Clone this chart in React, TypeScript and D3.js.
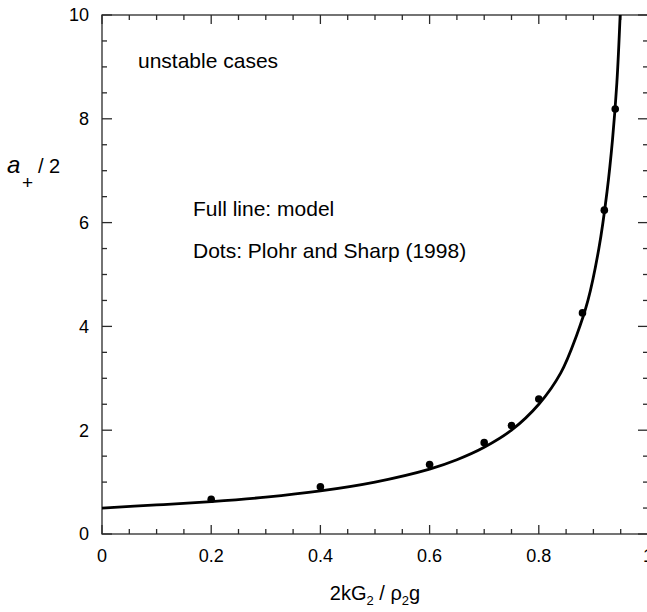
import React from "react";
import * as d3 from "d3";

// Model curve
const curveX = [0, 0.1, 0.2, 0.3, 0.4, 0.5, 0.6, 0.65, 0.7, 0.75, 0.8, 0.84, 0.87, 0.89, 0.91, 0.925, 0.935, 0.943, 0.949];
const curveY = [0.5, 0.56, 0.625, 0.71, 0.83, 1.0, 1.25, 1.43, 1.67, 2.0, 2.5, 3.1, 3.85, 4.5, 5.5, 6.6, 7.6, 8.7, 10.0];

// Plohr and Sharp (1998) dots
const dotX = [0.2, 0.4, 0.6, 0.7, 0.75, 0.8, 0.88, 0.92, 0.94];
const dotY = [0.67, 0.91, 1.34, 1.76, 2.09, 2.6, 4.26, 6.24, 8.19];

const xTickLabels = [0, 0.2, 0.4, 0.6, 0.8, 1];
const yTickLabels = [0, 2, 4, 6, 8, 10];

const W = 647;
const H = 612;
const FONT = "'Liberation Sans', Arial, Helvetica, sans-serif";

export default function App() {
  const x = d3.scaleLinear().domain([0, 1]).range([102, 648]);
  const y = d3.scaleLinear().domain([0, 10]).range([534, 15]);
  const x0 = x(0), x1 = x(1), y0 = y(0), y1 = y(10);

  const line = d3
    .line<number>()
    .x((_, i) => x(curveX[i]))
    .y((_, i) => y(curveY[i]))
    .curve(d3.curveCatmullRom.alpha(0.5));

  const xMinor = d3.range(0, 21).map((i) => i * 0.05);
  const yMinor = d3.range(0, 21).map((i) => i * 0.5);
  const isMajorX = (v: number) => Math.abs(v * 5 - Math.round(v * 5)) < 1e-6;
  const isMajorY = (v: number) => Math.abs(v / 2 - Math.round(v / 2)) < 1e-6;
  const axisColor = "#2a2a2a";

  return (
    <svg
      width={W}
      height={H}
      style={{ position: "absolute", left: 0, top: 0, background: "#fff" }}
      fontFamily={FONT}
    >
      <rect x={0} y={0} width={W} height={H} fill="#fff" />
      {/* frame */}
      <rect x={x0} y={y1} width={x1 - x0} height={y0 - y1} fill="none" stroke={axisColor} strokeWidth={1.3} />
      {/* x ticks bottom and top */}
      {xMinor.map((v, i) => {
        const len = isMajorX(v) ? 9 : 5;
        const px = x(v);
        return (
          <g key={"xt" + i}>
            <line x1={px} x2={px} y1={y0} y2={y0 - len} stroke={axisColor} strokeWidth={1.3} />
            <line x1={px} x2={px} y1={y1} y2={y1 + len} stroke={axisColor} strokeWidth={1.3} />
          </g>
        );
      })}
      {/* y ticks left and right */}
      {yMinor.map((v, i) => {
        const len = isMajorY(v) ? 10 : 5;
        const py = y(v);
        return (
          <g key={"yt" + i}>
            <line x1={x0} x2={x0 + len} y1={py} y2={py} stroke={axisColor} strokeWidth={1.3} />
            <line x1={x1} x2={x1 - len} y1={py} y2={py} stroke={axisColor} strokeWidth={1.3} />
          </g>
        );
      })}
      {/* tick labels */}
      {xTickLabels.map((v) => (
        <text key={"xl" + v} x={x(v)} y={562} textAnchor="middle" fontSize={18}>
          {String(v)}
        </text>
      ))}
      {yTickLabels.map((v) => (
        <text key={"yl" + v} x={89} y={y(v)} dy="0.35em" textAnchor="end" fontSize={18}>
          {String(v)}
        </text>
      ))}
      {/* model curve */}
      <path d={line(curveX) || ""} fill="none" stroke="#000" strokeWidth={2.8} strokeLinejoin="round" />
      {/* dots */}
      {dotX.map((v, i) => (
        <circle key={"d" + i} cx={x(v)} cy={y(dotY[i])} r={3.8} fill="#000" />
      ))}
      {/* annotations */}
      <text x={138} y={68} fontSize={21}>unstable cases</text>
      <text x={193} y={216} fontSize={21}>Full line: model</text>
      <text x={193} y={258} fontSize={21}>Dots: Plohr and Sharp (1998)</text>
      {/* x axis title */}
      <text x={(x0 + x1) / 2} y={600} textAnchor="middle" fontSize={20}>
        2kG
        <tspan fontSize={13} dy={5}>2</tspan>
        <tspan dy={-5}> / ρ</tspan>
        <tspan fontSize={13} dy={5}>2</tspan>
        <tspan dy={-5}>g</tspan>
      </text>
      {/* y axis title */}
      <text x={7} y={173} fontSize={24} fontStyle="italic">a</text>
      <text x={22} y={189} fontSize={19}>+</text>
      <text x={38} y={173} fontSize={20}>/ 2</text>
    </svg>
  );
}
